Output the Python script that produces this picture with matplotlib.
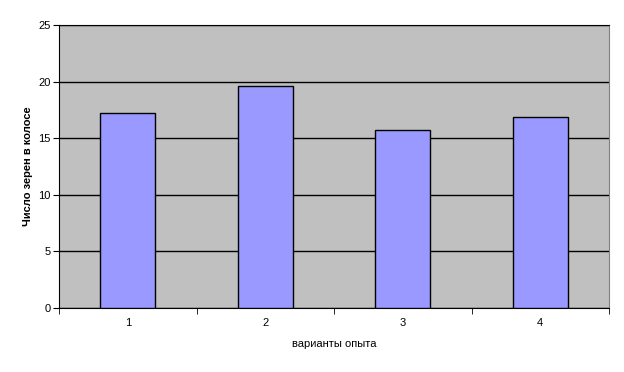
import matplotlib.pyplot as plt
import numpy as np

plt.rcParams['font.family'] = ['Liberation Sans', 'DejaVu Sans']

# data
variants = ['1', '2', '3', '4']
grains = [17.2, 19.6, 15.7, 16.9]

fig = plt.figure(figsize=(6.24, 3.72), dpi=100)
ax = fig.add_axes([59 / 624, 1 - 308 / 372, 550 / 624, 283 / 372])

x = np.arange(len(variants))
ax.set_facecolor('#C0C0C0')
ax.bar(x, grains, width=0.4, color='#9999FF', edgecolor='black', linewidth=1, zorder=3)

ax.set_xlim(-0.5, len(variants) - 0.5)
ax.set_ylim(0, 25)
ax.set_yticks(range(0, 26, 5))
ax.yaxis.grid(True, color='black', linewidth=1)
ax.set_axisbelow(True)

# category labels in the middle, tick marks between categories
ax.set_xticks(x)
ax.set_xticklabels(variants)
ax.tick_params(axis='x', which='major', length=0, pad=7, labelsize=8)
ax.set_xticks(np.arange(-0.5, len(variants)), minor=True)
ax.tick_params(axis='x', which='minor', length=4, direction='out')
ax.tick_params(axis='y', length=4, direction='out', labelsize=8, pad=2)

for s in ['left', 'bottom']:
    ax.spines[s].set_color('black')
ax.spines['right'].set_color('#808080')
ax.spines['top'].set_color('black')

ax.set_xlabel('варианты опыта', fontsize=8, labelpad=8)
ax.set_ylabel('Число зерен в колосе', fontsize=8, fontweight='bold', labelpad=4)

fig.savefig('out.png', dpi=100, facecolor='white')
